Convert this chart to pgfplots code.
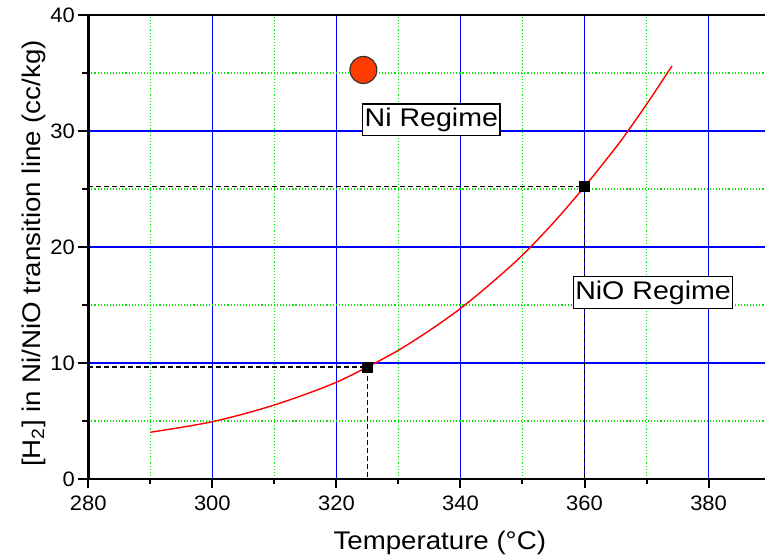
\documentclass[border=0pt]{standalone}
\usepackage{pgfplots}
\pgfplotsset{compat=1.18}
\usepackage{fontspec}
\setmainfont{Liberation Sans}
\newfontfamily\tickfont{Liberation Sans}[FakeStretch=1.05]
\newfontfamily\labelfont{Liberation Sans}[FakeStretch=1.085]
\newfontfamily\boxfont{Liberation Sans}[FakeStretch=1.12]

\definecolor{gridblue}{RGB}{0,0,255}
\definecolor{gridgreen}{RGB}{0,230,0}
\definecolor{curvered}{RGB}{255,0,0}
\definecolor{dotfill}{RGB}{255,60,0}

% Ni/NiO transition line: dissolved H2 vs temperature
\pgfplotstableread{
T    H2
290  4.03
295  4.45
300  4.94
305  5.60
310  6.38
315  7.30
320  8.34
325  9.65
330  11.10
335  12.80
340  14.70
345  16.90
350  19.30
355  22.10
360  25.20
365  28.55
367  30.00
370  32.30
374.1 35.60
}\transition

\begin{document}
\begin{tikzpicture}
\begin{axis}[
  name=ax,
  scale only axis,
  width=679.2bp, height=464bp,
  xmin=280, xmax=389.5,
  ymin=0, ymax=40,
  xtick={280,300,...,380},
  ytick={0,10,...,40},
  minor xtick={290,310,...,370},
  minor ytick={5,15,25,35},
  xtick pos=left,
  ytick pos=left,
  tick align=outside,
  grid=both,
  major grid style={gridblue, line width=1.2bp, solid},
  minor grid style={gridgreen, line width=1.1bp, dotted},
  /pgf/number format/assume math mode=true,
  tick label style={font=\tickfont\fontsize{21}{24}\selectfont},
  xticklabel style={anchor=base, yshift=-27bp},
  yticklabel style={anchor=east, inner sep=0pt, xshift=-9bp},
  every axis x label/.style={at={(rel axis cs:0.5175,0)}, anchor=base, yshift=-71bp},
  every axis y label/.style={at={(rel axis cs:0,0.486)}, anchor=base, rotate=90, yshift=48bp},
  xlabel={\labelfont\fontsize{25.6}{30}\selectfont Temperature (°C)},
  ylabel={\labelfont\fontsize{25.6}{30}\selectfont [H\textsubscript{2}] in Ni/NiO transition line (cc/kg)},
  clip=false,
]
  % reading guides for the two marked points
  \addplot[black, line width=1.2bp, dash pattern=on 5bp off 3bp]
    coordinates {(280,9.65) (325,9.65) (325,0)};
  \addplot[black, line width=1.2bp, dash pattern=on 5bp off 3bp]
    coordinates {(280,25.2) (360,25.2) (360,0)};

  % transition curve
  \addplot[curvered, line width=1.4bp, smooth, tension=0.5] table[x=T, y=H2] {\transition};

  % marked points on the curve
  \addplot[only marks, mark=square*, mark size=5bp, black]
    coordinates {(325,9.65) (360,25.2)};

  % operating point
  \addplot[only marks, mark=*, mark size=13.5bp,
    mark options={fill=dotfill, draw=black!80, line width=1.2bp}]
    coordinates {(324.35,35.26)};

  \node[draw=black, line width=1.2bp, fill=white, inner xsep=2bp, inner ysep=4bp,
        font=\boxfont\fontsize{25.6}{30}\selectfont]
    at (axis cs:335.3,30.95) {Ni Regime};
  \node[draw=black, line width=1.2bp, fill=white, inner xsep=2bp, inner ysep=4bp,
        font=\boxfont\fontsize{25.6}{30}\selectfont]
    at (axis cs:371.05,16.08) {NiO Regime};

  % heavy frame (open on the right) and outward tick marks
  \draw[black, line width=2.6bp, line cap=rect]
    (rel axis cs:1.02,1) -- (rel axis cs:0,1) -- (rel axis cs:0,0) -- (rel axis cs:1.02,0);
  \pgfplotsinvokeforeach{280,300,...,380}{
    \draw[black, line width=2bp] (axis cs:#1,0) -- (axis cs:#1,-0.776);
  }
  \pgfplotsinvokeforeach{290,310,...,370}{
    \draw[black, line width=2bp] (axis cs:#1,0) -- (axis cs:#1,-0.39);
  }
  \pgfplotsinvokeforeach{0,10,...,40}{
    \draw[black, line width=2bp] (axis cs:280,#1) -- (axis cs:278.39,#1);
  }
  \pgfplotsinvokeforeach{5,15,...,35}{
    \draw[black, line width=2bp] (axis cs:280,#1) -- (axis cs:279.03,#1);
  }
\end{axis}
\pgfresetboundingbox
\path ([xshift=-88.3bp,yshift=-77bp]ax.south west) rectangle ([xshift=-2.5bp,yshift=15bp]ax.north east);
\end{tikzpicture}
\end{document}
